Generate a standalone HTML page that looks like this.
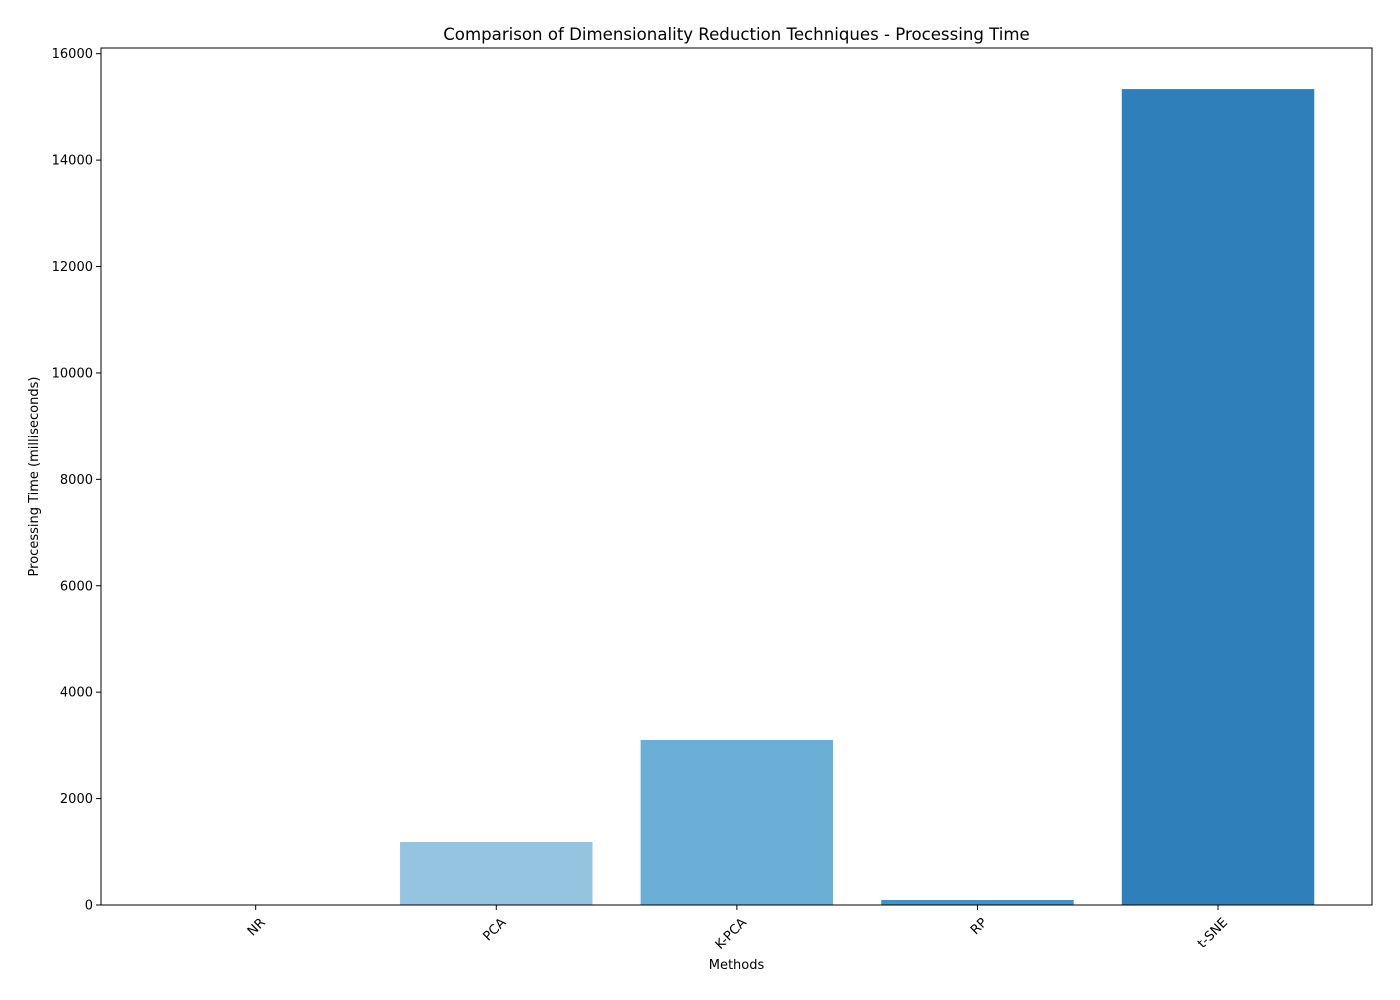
<!DOCTYPE html>
<html><head><meta charset="utf-8"><style>
body{margin:0;background:#fff;}
svg{display:block;font-family:"DejaVu Sans","Liberation Sans",sans-serif;}
</style></head><body>
<svg id="chart" width="1400" height="1000">
<rect x="0" y="0" width="1400" height="1000" fill="#fff"/>
<g id="bars"></g>
<g id="axes"></g>
</svg>
<script>
const categories = ["NR","PCA","K-PCA","RP","t-SNE"];
const values = [0, 1184, 3101, 94, 15335];
const colors = ["#c6dbef","#95c4e0","#6baed6","#4292c6","#2f7fba"];
const yTicks = [0,2000,4000,6000,8000,10000,12000,14000,16000];

const L=101,R=1372,T=48,B=905;
const xMin=-0.643,xMax=4.64,yMax=16107;
const xs=v=>L+(v-xMin)/(xMax-xMin)*(R-L);
const ys=v=>B-v/yMax*(B-T);
const NS="http://www.w3.org/2000/svg";
const svg=document.getElementById('chart');
const bars=document.getElementById('bars');
const axes=document.getElementById('axes');
function mk(tag,attrs,parent){const e=document.createElementNS(NS,tag);for(const k in attrs)e.setAttribute(k,attrs[k]);parent.appendChild(e);return e;}

categories.forEach((c,i)=>{
  const x0=xs(i-0.4),x1=xs(i+0.4);
  const r=mk('rect',{x:x0,y:ys(values[i]),width:x1-x0,height:B-ys(values[i]),fill:colors[i]},bars);
  
  
  const t=mk('line',{x1:xs(i),x2:xs(i),y1:B,y2:B+5,stroke:'#000','stroke-width':1},axes);
  
  
  const lx=xs(i)+4,ly=B+12;
  const tx=mk('text',{x:lx,y:ly,'font-size':13,'text-anchor':'end','dominant-baseline':'hanging',transform:`rotate(-45 ${lx} ${ly})`},axes);
  tx.textContent=c;
  
  
});
yTicks.forEach(v=>{
  const y=ys(v);
  const t=mk('line',{x1:L-5,x2:L,y1:y,y2:y,stroke:'#000','stroke-width':1},axes);
  
  
  const tx=mk('text',{x:L-8,y:y+4.5,'font-size':13,'text-anchor':'end'},axes);
  tx.textContent=v;
  
  
});
const frame=mk('rect',{x:L,y:T,width:R-L,height:B-T,fill:'none',stroke:'#000','stroke-width':1},axes);


const title=mk('text',{x:(L+R)/2,y:40,'font-size':16.6,'text-anchor':'middle'},axes);
title.textContent="Comparison of Dimensionality Reduction Techniques - Processing Time";


const xl=mk('text',{x:(L+R)/2,y:969,'font-size':13,'text-anchor':'middle'},axes);
xl.textContent="Methods";


const yl=mk('text',{x:38,y:(T+B)/2,'font-size':13,'text-anchor':'middle',transform:`rotate(-90 38 ${(T+B)/2})`},axes);
yl.textContent="Processing Time (milliseconds)";


</script>
</body></html>
